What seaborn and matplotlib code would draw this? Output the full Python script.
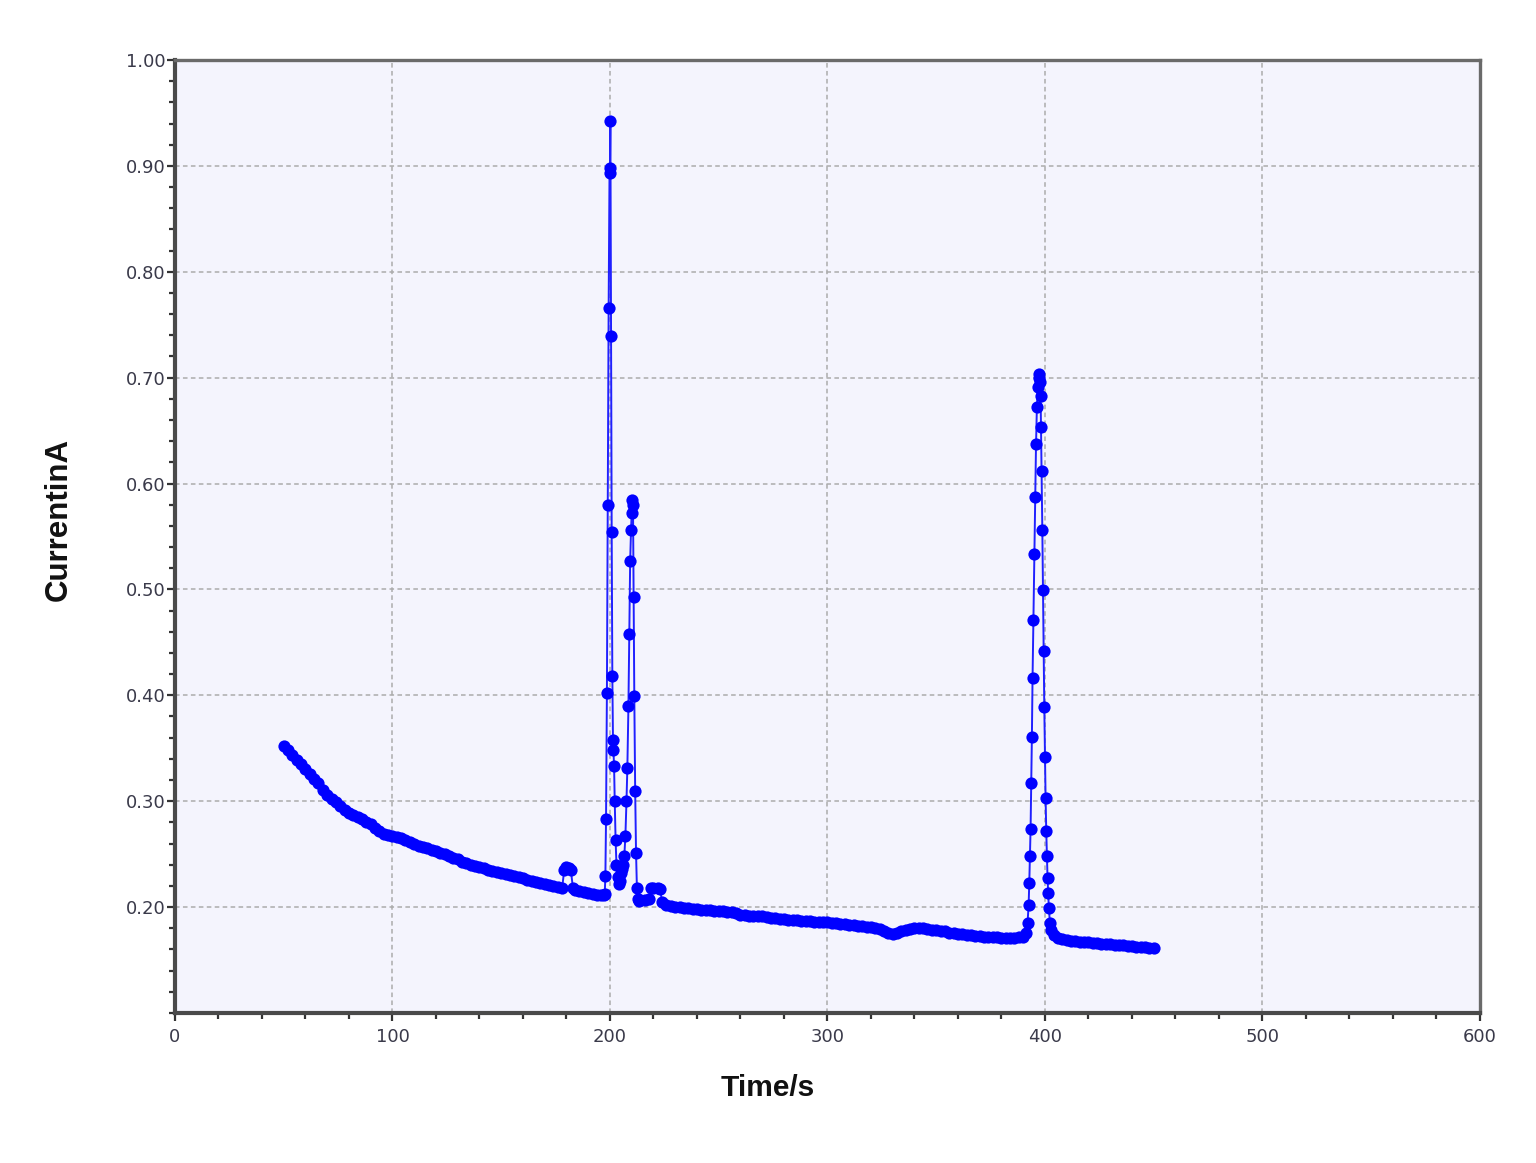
import matplotlib
matplotlib.use("Agg")
import matplotlib.pyplot as plt
from matplotlib.ticker import MultipleLocator, FixedLocator, FixedFormatter
import seaborn as sns
import pandas as pd

# ---------------- data ----------------
time_s = [
    50, 52, 54, 56, 58, 60, 62, 64, 66, 68, 70, 72, 74, 76, 78, 80, 82, 84, 86, 88,
    90, 92, 94, 96, 98, 100, 102, 104, 106, 108, 110, 112, 114, 116, 118, 120, 122,
    124, 126, 128, 130, 132, 134, 136, 138, 140, 142, 144, 146, 148, 150, 152, 154,
    156, 158, 160, 162, 164, 166, 168, 170, 172, 174, 176, 178, 179, 180, 181, 182,
    183, 184, 186, 188, 190, 192, 194, 196, 197.2,
    # first double peak
    197.6, 197.9, 198.2, 198.6, 199.0, 199.4, 199.8, 200.0, 200.2, 200.5, 200.8,
    201.1, 201.4, 201.6, 201.9, 202.2, 202.6, 203.0, 203.5, 204.0, 204.5, 205.0,
    205.5, 206.0, 206.6, 207.1, 207.6, 208.0, 208.5, 208.9, 209.3, 209.7, 210.0,
    210.3, 210.6, 210.9, 211.2, 211.6, 212.0, 212.4, 212.8, 213.5,
    # baseline
    214, 216, 218, 219, 220, 222, 223, 224, 226, 228, 230, 232, 234, 236, 238, 240,
    242, 244, 246, 248, 250, 252, 254, 256, 258, 260, 262, 264, 266, 268, 270, 272,
    274, 276, 278, 280, 282, 284, 286, 288, 290, 292, 294, 296, 298, 300, 302, 304,
    306, 308, 310, 312, 314, 316, 318, 320, 322, 324, 326, 328, 330, 332, 334, 336,
    338, 340, 342, 344, 346, 348, 350, 352, 354, 356, 358, 360, 362, 364, 366, 368,
    370, 372, 374, 376, 378, 380, 382, 384, 386, 388, 390, 391.2,
    # second peak
    392.0, 392.5, 392.8, 393.1, 393.4, 393.7, 394.0, 394.3, 394.7, 395.1, 395.5,
    395.9, 396.3, 396.7, 397.1, 397.4, 397.7, 398.0, 398.2, 398.5, 398.8, 399.1,
    399.4, 399.7, 400.0, 400.3, 400.6, 400.9, 401.2, 401.5, 401.8, 402.3, 403.0,
    # tail
    404, 406, 408, 410, 412, 414, 416, 418, 420, 422, 424, 426, 428, 430, 432, 434,
    436, 438, 440, 442, 444, 446, 448, 450,
]

current_a = [
    0.352, 0.348, 0.344, 0.339, 0.335, 0.330, 0.326, 0.321, 0.317, 0.311, 0.306,
    0.302, 0.299, 0.295, 0.292, 0.289, 0.287, 0.285, 0.283, 0.280, 0.278, 0.275,
    0.272, 0.269, 0.268, 0.267, 0.266, 0.265, 0.263, 0.261, 0.260, 0.258, 0.257,
    0.256, 0.254, 0.253, 0.251, 0.250, 0.248, 0.246, 0.245, 0.243, 0.242, 0.240,
    0.239, 0.238, 0.237, 0.235, 0.234, 0.233, 0.232, 0.231, 0.230, 0.229, 0.228,
    0.227, 0.226, 0.225, 0.224, 0.223, 0.222, 0.221, 0.220, 0.219, 0.218, 0.235,
    0.238, 0.237, 0.235, 0.218, 0.216, 0.215, 0.214, 0.213, 0.212, 0.211, 0.211,
    0.211,
    # first double peak
    0.212, 0.229, 0.283, 0.402, 0.580, 0.766, 0.893, 0.898, 0.942, 0.739, 0.554,
    0.418, 0.358, 0.348, 0.333, 0.300, 0.263, 0.240, 0.228, 0.222, 0.225, 0.232,
    0.236, 0.240, 0.248, 0.267, 0.300, 0.331, 0.390, 0.458, 0.527, 0.556, 0.572,
    0.584, 0.580, 0.493, 0.399, 0.310, 0.251, 0.218, 0.208, 0.206,
    # baseline
    0.207, 0.207, 0.208, 0.218, 0.218, 0.218, 0.217, 0.205, 0.202, 0.201, 0.200,
    0.200, 0.199, 0.199, 0.198, 0.198, 0.197, 0.197, 0.197, 0.196, 0.196, 0.196,
    0.195, 0.195, 0.194, 0.193, 0.193, 0.192, 0.192, 0.192, 0.192, 0.191, 0.190,
    0.190, 0.189, 0.189, 0.188, 0.188, 0.188, 0.187, 0.187, 0.187, 0.186, 0.186,
    0.186, 0.186, 0.185, 0.185, 0.184, 0.184, 0.183, 0.183, 0.182, 0.182, 0.181,
    0.181, 0.180, 0.179, 0.177, 0.176, 0.175, 0.176, 0.177, 0.178, 0.179, 0.180,
    0.180, 0.180, 0.179, 0.178, 0.178, 0.177, 0.177, 0.176, 0.176, 0.175, 0.175,
    0.174, 0.174, 0.173, 0.173, 0.172, 0.172, 0.172, 0.172, 0.171, 0.171, 0.171,
    0.171, 0.172, 0.172, 0.176,
    # second peak
    0.185, 0.202, 0.223, 0.248, 0.274, 0.317, 0.361, 0.416, 0.471, 0.533, 0.587,
    0.637, 0.672, 0.691, 0.700, 0.703, 0.696, 0.683, 0.653, 0.612, 0.556, 0.499,
    0.442, 0.389, 0.342, 0.303, 0.272, 0.248, 0.227, 0.213, 0.199, 0.185, 0.178,
    # tail
    0.174, 0.171, 0.170, 0.169, 0.168, 0.168, 0.167, 0.167, 0.167, 0.166, 0.166,
    0.165, 0.165, 0.165, 0.164, 0.164, 0.164, 0.163, 0.163, 0.162, 0.162, 0.162,
    0.161, 0.161,
]

x_ticks = [0, 100, 200, 300, 400, 500, 600]
x_tick_labels = ["0", "100", "200", "300", "400", "500", "600"]
y_ticks = [0.20, 0.30, 0.40, 0.50, 0.60, 0.70, 0.80, 0.90, 1.00]
y_tick_labels = ["0.20", "0.30", "0.40", "0.50", "0.60", "0.70", "0.80", "0.90", "1.00"]

x_label = "Time/s"
y_label = "CurrentinA"

# ---------------- plotting ----------------
sns.set_style("white")
plt.rcParams["font.family"] = ["DejaVu Sans"]

df = pd.DataFrame({"Time": time_s, "Current": current_a})

fig = plt.figure(figsize=(15.36, 11.63), dpi=100, facecolor="white")
ax = fig.add_axes([0.1139, 0.129, 0.8496, 0.8194])
ax.set_facecolor("#F4F4FD")

sns.lineplot(data=df, x="Time", y="Current", ax=ax, estimator=None, sort=False,
             color="#2020FF", linewidth=1.4, marker="o", markersize=8.8,
             markeredgewidth=0, markerfacecolor="#0000FF", zorder=3)

ax.set_xlim(0, 600)
ax.set_ylim(0.10, 1.00)

ax.xaxis.set_major_locator(FixedLocator(x_ticks))
ax.xaxis.set_major_formatter(FixedFormatter(x_tick_labels))
ax.yaxis.set_major_locator(FixedLocator(y_ticks))
ax.yaxis.set_major_formatter(FixedFormatter(y_tick_labels))
ax.xaxis.set_minor_locator(MultipleLocator(20))
ax.yaxis.set_minor_locator(MultipleLocator(0.02))

ax.grid(True, which="major", color="#ABABAB", linestyle=(0, (3, 2.2)),
        linewidth=1.1, zorder=0)
ax.set_axisbelow(True)

for side in ["left", "bottom"]:
    ax.spines[side].set_color("#4A4A4A")
    ax.spines[side].set_linewidth(3.0)
for side in ["top", "right"]:
    ax.spines[side].set_color("#6A6A6A")
    ax.spines[side].set_linewidth(2.4)

ax.tick_params(axis="both", which="both", bottom=True, left=True,
               top=False, right=False)
ax.tick_params(axis="both", which="major", direction="out", length=6,
               width=1.6, color="#333333", labelsize=13, labelcolor="#3A3A4A")
ax.tick_params(axis="both", which="minor", direction="out", length=4,
               width=1.6, color="#333333")
ax.tick_params(axis="x", which="major", pad=5)
ax.tick_params(axis="y", which="major", pad=1)

ax.set_xlabel(x_label, fontsize=21.5, fontweight="bold", family="Liberation Sans",
              color="#111111")
ax.set_ylabel(y_label, fontsize=22.5, fontweight="bold", family="Liberation Sans",
              color="#111111")
ax.xaxis.set_label_coords(0.4544, -0.0645)
ax.yaxis.set_label_coords(-0.0775, 0.518)

fig.savefig("out.png", dpi=100, facecolor="white")
